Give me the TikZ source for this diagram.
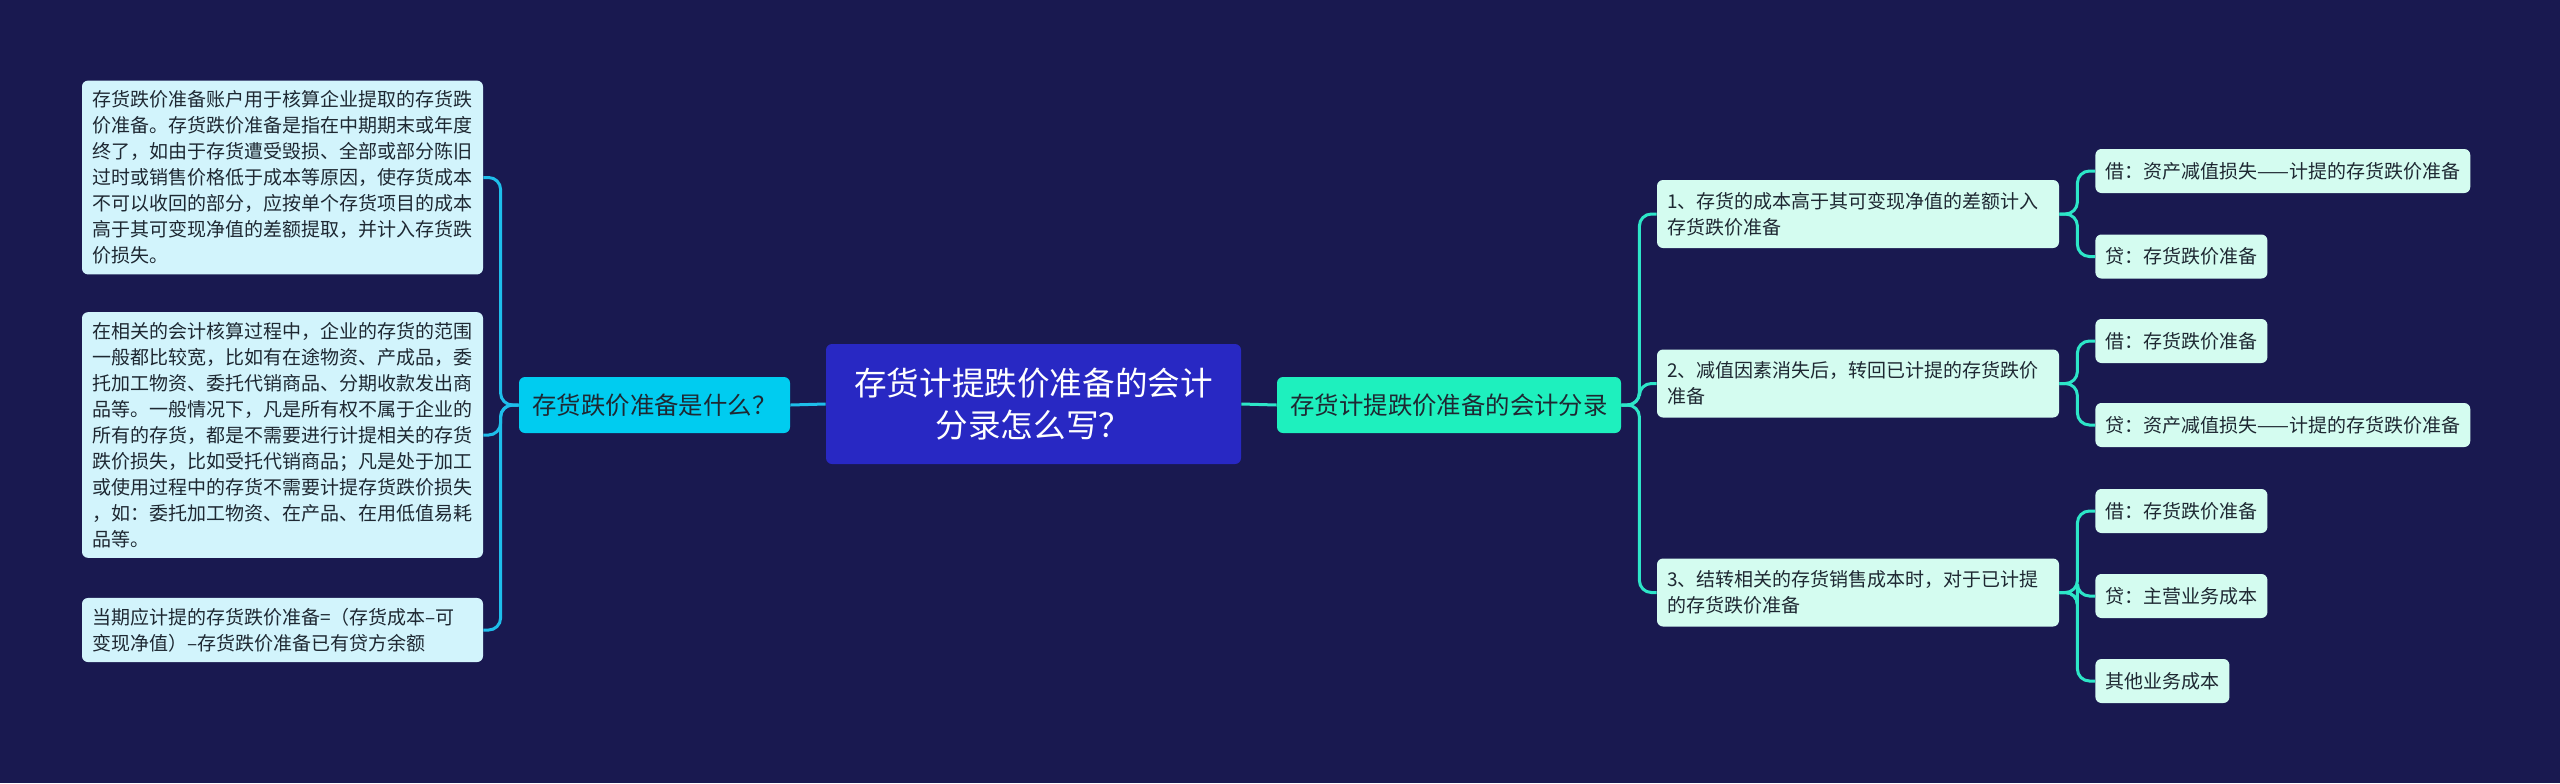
\documentclass[tikz,border=0pt]{standalone}
\usepackage{fontspec}
\setmainfont{Noto Sans CJK SC}
\usepackage{tikz}
\usetikzlibrary{positioning,calc}
\definecolor{bgnavy}{RGB}{25,25,80}
\definecolor{rootblue}{RGB}{40,40,195}
\definecolor{lefttopic}{RGB}{0,204,240}
\definecolor{righttopic}{RGB}{30,240,190}
\definecolor{leftleaf}{RGB}{210,244,252}
\definecolor{rightleaf}{RGB}{212,252,240}
\definecolor{inkdark}{RGB}{30,40,50}
\definecolor{leftline}{RGB}{30,190,235}
\definecolor{rightline}{RGB}{45,230,200}
\tikzset{
  rootnode/.style={rectangle, rounded corners=3pt, fill=rootblue, text=white,
    align=center, minimum width=207.5pt, minimum height=60pt,
    font=\fontsize{16.3}{21}\selectfont},
  topicnode/.style={rectangle, rounded corners=3pt, text=inkdark, align=center,
    minimum height=28pt, inner sep=4pt, font=\fontsize{12.2}{15}\selectfont},
  leftnote/.style={rectangle, rounded corners=3pt, fill=leftleaf, text=inkdark,
    align=left, text width=190.5pt, inner sep=5pt, font=\fontsize{9.5}{13}\selectfont},
  stepnote/.style={rectangle, rounded corners=3pt, fill=rightleaf, text=inkdark,
    align=left, text width=191pt, inner sep=5pt, minimum height=34pt,
    font=\fontsize{9.5}{13}\selectfont},
  entrynote/.style={rectangle, rounded corners=3pt, fill=rightleaf, text=inkdark,
    anchor=west, inner sep=5pt, minimum height=22pt, font=\fontsize{9.5}{13}\selectfont},
  lconn/.style={draw=leftline, line width=1.5pt, rounded corners=6pt},
  rconn/.style={draw=rightline, line width=1.5pt, rounded corners=6pt},
}
\begin{document}
\begin{tikzpicture}[x=0.5pt, y=-0.5pt]
  \useasboundingbox[fill=bgnavy] (0,0) rectangle (2560,783);
  % centre and the two main topics
  \node[rootnode] (root) at (1033.5,404) {存货计提跌价准备的会计\\分录怎么写？};
  \node[topicnode, fill=lefttopic, minimum width=135.5pt] (what) at (654.5,405) {存货跌价准备是什么？};
  \node[topicnode, fill=righttopic, minimum width=172pt] (entry) at (1449,405) {存货计提跌价准备的会计分录};
  % left notes
  \node[leftnote] (def) at (282.5,177.5) {存货跌价准备账户用于核算企业提取的存货跌\\价准备。存货跌价准备是指在中期期末或年度\\终了，如由于存货遭受毁损、全部或部分陈旧\\过时或销售价格低于成本等原因，使存货成本\\不可以收回的部分，应按单个存货项目的成本\\高于其可变现净值的差额提取，并计入存货跌\\价损失。};
  \node[leftnote] (scope) at (282.5,435) {在相关的会计核算过程中，企业的存货的范围\\一般都比较宽，比如有在途物资、产成品，委\\托加工物资、委托代销商品、分期收款发出商\\品等。一般情况下，凡是所有权不属于企业的\\所有的存货，都是不需要进行计提相关的存货\\跌价损失，比如受托代销商品；凡是处于加工\\或使用过程中的存货不需要计提存货跌价损失\\，如：委托加工物资、在产品、在用低值易耗\\品等。};
  \node[leftnote] (formula) at (282.5,630) {当期应计提的存货跌价准备=（存货成本–可\\变现净值）–存货跌价准备已有贷方余额};
  % right steps
  \node[stepnote] (s1) at (1858,214) {1、存货的成本高于其可变现净值的差额计入\\存货跌价准备};
  \node[stepnote] (s2) at (1858,383.5) {2、减值因素消失后，转回已计提的存货跌价\\准备};
  \node[stepnote] (s3) at (1858,592.5) {3、结转相关的存货销售成本时，对于已计提\\的存货跌价准备};
  % journal entries
  \node[entrynote] (e11) at (2095,171) {借：资产减值损失——计提的存货跌价准备};
  \node[entrynote] (e12) at (2095,256.5) {贷：存货跌价准备};
  \node[entrynote] (e21) at (2095,341) {借：存货跌价准备};
  \node[entrynote] (e22) at (2095,425) {贷：资产减值损失——计提的存货跌价准备};
  \node[entrynote] (e31) at (2095,511) {借：存货跌价准备};
  \node[entrynote] (e32) at (2095,596) {贷：主营业务成本};
  \node[entrynote] (e33) at (2095,681) {其他业务成本};
  % connectors
  \draw[lconn] (root.west) -- (what.east);
  \draw[rconn] (root.east) -- (entry.west);
  \foreach \n in {def,scope,formula}
    \draw[lconn] (what.west) -- ++(-18,0) |- (\n.east);
  \foreach \n in {s1,s2,s3}
    \draw[rconn] (entry.east) -- ++(18,0) |- (\n.west);
  \foreach \n in {e11,e12}
    \draw[rconn] (s1.east) -- ++(18,0) |- (\n.west);
  \foreach \n in {e21,e22}
    \draw[rconn] (s2.east) -- ++(18,0) |- (\n.west);
  \foreach \n in {e31,e32,e33}
    \draw[rconn] (s3.east) -- ++(18,0) |- (\n.west);
\end{tikzpicture}
\end{document}
